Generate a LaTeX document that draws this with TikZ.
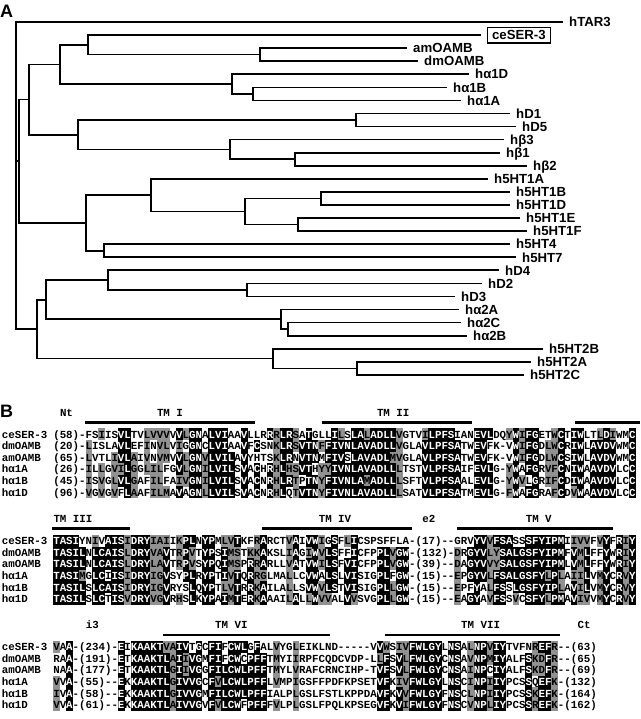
\documentclass[tikz,border=0pt]{standalone}
\usepackage{fontspec}
\setmainfont{Liberation Sans}
\newfontfamily\seqfont{Liberation Mono}
\definecolor{shadegray}{RGB}{145,145,145}
\tikzset{
  branch/.style={line width=1.7pt},
  leaf/.style={anchor=west, inner xsep=6pt, inner ysep=0pt, text height=9.4pt, text depth=0pt,
     font=\fontsize{13.2}{14}\selectfont\bfseries},
  boxedleaf/.style={leaf, draw, line width=1.3pt, inner xsep=4.5pt, inner ysep=3.2pt},
  panel/.style={anchor=base west, inner sep=0pt, font=\fontsize{18}{18}\selectfont\bfseries},
  mono/.style={inner sep=0pt, font=\seqfont\fontsize{10.8}{11}\selectfont\bfseries},
  head/.style={mono, anchor=base west},
  seqname/.style={mono, anchor=base west},
  tmbar/.style={line width=2.2pt},
  blkcell/.style={fill=black},
  grycell/.style={fill=shadegray},
}

\ExplSyntaxOn
\fp_const:Nn \c__rs_cw_fp {6.47}
\fp_const:Nn \c__rs_rh_fp {11.6}
\fp_const:Nn \c__rs_base_fp {3.7}
\int_new:N \l__rs_len_int
\int_new:N \l__rs_col_int
\int_new:N \l__rs_cnt_int
\int_new:N \l__rs_max_int
\int_new:N \l__rs_gcnt_int
\int_new:N \l__rs_gmax_int
\tl_new:N \l__rs_cons_tl
\tl_new:N \l__rs_gcons_tl
\tl_new:N \l__rs_class_tl
\tl_new:N \l__rs_xa_tl
\tl_new:N \l__rs_xb_tl
\tl_new:N \l__rs_ya_tl
\tl_new:N \l__rs_yb_tl
\tl_new:N \l__rs_xc_tl
\tl_new:N \l__rs_yc_tl
\fp_new:N \l__rs_x_fp
\fp_new:N \l__rs_y_fp
\int_step_inline:nn {6}
  {
    \tl_new:c {l__rs_ch_#1_tl}
    \tl_new:c {l__rs_g_#1_tl}
  }
\clist_map_inline:nn {F,Y,W} { \tl_const:cn {c__rs_grp_#1_tl} {1} }
\clist_map_inline:nn {I,L,M,V} { \tl_const:cn {c__rs_grp_#1_tl} {2} }
\clist_map_inline:nn {R,K,H} { \tl_const:cn {c__rs_grp_#1_tl} {3} }
\clist_map_inline:nn {D,E} { \tl_const:cn {c__rs_grp_#1_tl} {4} }
\clist_map_inline:nn {G,A} { \tl_const:cn {c__rs_grp_#1_tl} {5} }
\clist_map_inline:nn {S,T} { \tl_const:cn {c__rs_grp_#1_tl} {6} }
\clist_map_inline:nn {N,Q} { \tl_const:cn {c__rs_grp_#1_tl} {7} }
\tl_const:cn {c__rs_grp_C_tl} {8}
\tl_const:cn {c__rs_grp_P_tl} {9}

% block 1
\tl_const:cn {c__rs_b1_r1_tl} {(58)-FSIISVLTVLVVVVVLGNALVIAAVLLRRRLRSATGLLILSLALADLLVGTVILPFSIANEVLDQYWIFGETWCTIWLTLDIWMC}
\tl_const:cn {c__rs_b1_r2_tl} {(20)-LISLAVLEFINVLVIGGNCLVIAAVFCSNKLRSVTNFFIVNLAVADLLVGLAVLPFSATWEVFK-VWIFGDLWCRIWLAVDVWMC}
\tl_const:cn {c__rs_b1_r3_tl} {(65)-LVTLIVLAIVNVMVVLGNVLVILAVYHTSKLRNVTNMFIVSLAVADLMVGLAVLPFSATWEVFK-VWIFGDLWCSIWLAVDVWMC}
\tl_const:cn {c__rs_b1_r4_tl} {(26)-ILLGVILGGLILFGVLGNILVILSVACHRHLHSVTHYYIVNLAVADLLLTSTVLPFSAIFEVLG-YWAFGRVFCNIWAAVDVLCC}
\tl_const:cn {c__rs_b1_r5_tl} {(45)-ISVGLVLGAFILFAIVGNILVILSVACNRHLRTPTNYFIVNLAMADLLLSFTVLPFSAALEVLG-YWVLGRIFCDIWAAVDVLCC}
\tl_const:cn {c__rs_b1_r6_tl} {(96)-VGVGVFLAAFILMAVAGNLLVILSVACNRHLQTVTNYFIVNLAVADLLLSATVLPFSATMEVLG-FWAFGRAFCDVWAAVDVLCC}
% block 2
\tl_const:cn {c__rs_b2_r1_tl} {TASIYNIVAISIDRYIAIIKPLNYPMLVTKFRARCTVAIVWIGSFLICSPSFFLA-(17)--GRVYVVFSASSSFYIPMIIVVFVYFRIY}
\tl_const:cn {c__rs_b2_r2_tl} {TASILNLCAISLDRYVAVTRPVTYPSIMSTKKAKSLIAGIWVLSFFICFPPLVGW-(132)-DRGYVLYSALGSFYIPMFVMLFFYWRIY}
\tl_const:cn {c__rs_b2_r3_tl} {TASILNLCAISLDRYLAVTRPVSYPQIMSPRRARLLVATVWILSFVICFPPLVGW-(39)--DAGYVVYSALGSFYIPMLVMLFFYWRIY}
\tl_const:cn {c__rs_b2_r4_tl} {TASIMGLCIISIDRYIGVSYPLRYPTIVTQRRGLMALLCVWALSLVISIGPLFGW-(15)--EPGYVLFSALGSFYLPLAIILVMYCRVY}
\tl_const:cn {c__rs_b2_r5_tl} {TASILSLCAISIDRYIGVRYSLQYPTLVTRRKAILALLSVWVLSTVISIGPLLGW-(15)--EPFYALFSSLGSFYIPLAVILVMYCRVY}
\tl_const:cn {c__rs_b2_r6_tl} {TASILSLCTISVDRYVGVRHSLKYPAIMTERKAAAILALLWVVALVVSVGPLLGW-(15)--EAGYAVFSSVCSFYLPMAVIVVMYCRVY}
% block 3
\tl_const:cn {c__rs_b3_r1_tl} {VAA-(234)-EIKAAKTVAIVTGCFIFCWLGFALVYGLEIKLND-----VVWSIVFWLGYLNSALNPVIYTVFNREFR--(63)}
\tl_const:cn {c__rs_b3_r2_tl} {RAA-(191)-ETKAAKTLAIIVGMFIFCWCPFFTMYIIRPFCQDCVDP-LLFSVLFWLGYCNSAVNPMIYALFSKDFR--(65)}
\tl_const:cn {c__rs_b3_r3_tl} {NAA-(177)-ETKAAKTLGIIVGGFILCWLPFFTMYLVRAFCRNCIHP-TVFSVLFWLGYCNSAINPCIYALFSKDFR--(69)}
\tl_const:cn {c__rs_b3_r4_tl} {VVA-(55)--EKKAAKTLGIVVGCFVLCWLPFFLVMPIGSFFPDFKPSETVFKIVFWLGYLNSCINPIIYPCSSQEFK-(132)}
\tl_const:cn {c__rs_b3_r5_tl} {IVA-(58)--EKKAAKTLGIVVGMFILCWLPFFIALPLGSLFSTLKPPDAVFKVVFWLGYFNSCLNPIIYPCSSKEFK-(164)}
\tl_const:cn {c__rs_b3_r6_tl} {VVA-(61)--EKKAAKTLAIVVGVFVLCWFPFFFVLPLGSLFPQLKPSEGVFKVIFWLGYFNSCVNPLIYPCSSREFK-(162)}

\cs_new_protected:Npn \__rs_fetch:n #1
  {
    \int_step_inline:nn {6}
      {
        \tl_set:cx {l__rs_ch_##1_tl}
          { \tl_item:cn {c__rs_b#1_r##1_tl} { \l__rs_col_int } }
        \cs_if_exist:cTF { c__rs_grp_ \tl_use:c {l__rs_ch_##1_tl} _tl }
          { \tl_set_eq:cc {l__rs_g_##1_tl} { c__rs_grp_ \tl_use:c {l__rs_ch_##1_tl} _tl } }
          { \tl_set:cn {l__rs_g_##1_tl} {0} }
      }
  }

\cs_new_protected:Npn \__rs_consensus:
  {
    \int_zero:N \l__rs_max_int
    \int_zero:N \l__rs_gmax_int
    \tl_clear:N \l__rs_cons_tl
    \tl_set:Nn \l__rs_gcons_tl {0}
    \int_step_inline:nn {6}
      {
        \str_if_eq:eeF { \tl_use:c {l__rs_g_##1_tl} } {0}
          {
            \int_zero:N \l__rs_cnt_int
            \int_zero:N \l__rs_gcnt_int
            \int_step_inline:nn {6}
              {
                \tl_if_eq:ccT {l__rs_ch_##1_tl} {l__rs_ch_####1_tl}
                  { \int_incr:N \l__rs_cnt_int }
                \tl_if_eq:ccT {l__rs_g_##1_tl} {l__rs_g_####1_tl}
                  { \int_incr:N \l__rs_gcnt_int }
              }
            \int_compare:nNnT { \l__rs_cnt_int } > { \l__rs_max_int }
              {
                \int_set_eq:NN \l__rs_max_int \l__rs_cnt_int
                \tl_set_eq:Nc \l__rs_cons_tl {l__rs_ch_##1_tl}
              }
            \int_compare:nNnT { \l__rs_gcnt_int } > { \l__rs_gmax_int }
              {
                \int_set_eq:NN \l__rs_gmax_int \l__rs_gcnt_int
                \tl_set_eq:Nc \l__rs_gcons_tl {l__rs_g_##1_tl}
              }
          }
      }
  }

\cs_new_protected:Npn \__rs_check_grey:n #1
  {
    \int_compare:nNnT { \l__rs_gmax_int } > { 3 }
      {
        \tl_if_eq:NcT \l__rs_gcons_tl {l__rs_g_#1_tl}
          { \tl_set:Nn \l__rs_class_tl {1} }
      }
  }

\cs_new_protected:Npn \__rs_cell:nnn #1#2#3
  {
    \tl_set:Nx \l__rs_xa_tl { \fp_eval:n { \l__rs_x_fp - 0.5 * \c__rs_cw_fp - 0.12 } }
    \tl_set:Nx \l__rs_xb_tl { \fp_eval:n { \l__rs_x_fp + 0.5 * \c__rs_cw_fp + 0.12 } }
    \tl_set:Nx \l__rs_ya_tl { \fp_eval:n { \l__rs_y_fp - 0.5 * \c__rs_rh_fp - 0.12 } }
    \tl_set:Nx \l__rs_yb_tl { \fp_eval:n { \l__rs_y_fp + 0.5 * \c__rs_rh_fp + 0.12 } }
    \tl_set:Nx \l__rs_xc_tl { \fp_eval:n { \l__rs_x_fp } }
    \tl_set:Nx \l__rs_yc_tl { \fp_eval:n { \l__rs_y_fp + \c__rs_base_fp } }
    \tl_if_empty:nF {#1}
      { \fill [#1] (\l__rs_xa_tl , \l__rs_ya_tl) rectangle (\l__rs_xb_tl , \l__rs_yb_tl); }
    \node [mono , text = #2 , anchor = base] at (\l__rs_xc_tl , \l__rs_yc_tl) { \tl_use:c {l__rs_ch_#3_tl} };
  }

\cs_new_protected:Npn \__rs_draw_column:nnn #1#2#3
  {
    \fp_set:Nn \l__rs_x_fp { #1 + (\l__rs_col_int - 0.5) * \c__rs_cw_fp }
    \int_step_inline:nn {6}
      {
        \fp_set:Nn \l__rs_y_fp { #2 + (##1 - 1) * (#3) }
        \tl_set:Nn \l__rs_class_tl {0}
        \str_if_eq:eeF { \tl_use:c {l__rs_g_##1_tl} } {0}
          {
            \int_compare:nNnTF { \l__rs_max_int } > { 3 }
              {
                \tl_if_eq:NcTF \l__rs_cons_tl {l__rs_ch_##1_tl}
                  { \tl_set:Nn \l__rs_class_tl {2} }
                  { \__rs_check_grey:n {##1} }
              }
              { \__rs_check_grey:n {##1} }
          }
        \int_case:nnF { \l__rs_class_tl }
          {
            {2} { \__rs_cell:nnn {blkcell} {white} {##1} }
            {1} { \__rs_cell:nnn {grycell} {black} {##1} }
          }
          { \__rs_cell:nnn {} {black} {##1} }
      }
  }

\cs_new_protected:Npn \rs_block:nnnn #1#2#3#4
  {
    \int_set:Nn \l__rs_len_int { \tl_count:c {c__rs_b#1_r1_tl} }
    \int_zero:N \l__rs_col_int
    \int_do_until:nNnn { \l__rs_col_int } = { \l__rs_len_int }
      {
        \int_incr:N \l__rs_col_int
        \__rs_fetch:n {#1}
        \__rs_consensus:
        \__rs_draw_column:nnn {#2} {#3} {#4}
      }
  }
\cs_set_eq:NN \SeqBlock \rs_block:nnnn
\ExplSyntaxOff

\begin{document}
\begin{tikzpicture}[x=1pt,y=-1pt]
\useasboundingbox (0,0) rectangle (640,719);
\fill[white] (0,0) rectangle (640,719);

% ---------------- Panel A: tree ----------------
\node[panel] (pA) at (0,18) {A};

\node[leaf] (tar3) at (563,22.0) {hTAR3};
\node[boxedleaf] (ceser) at (487,35.1) {ceSER-3};
\node[leaf] (amoamb) at (407,48.1) {amOAMB};
\node[leaf] (dmoamb) at (418,61.2) {dmOAMB};
\node[leaf] (a1d) at (469,74.3) {hα1D};
\node[leaf] (a1b) at (447,87.4) {hα1B};
\node[leaf] (a1a) at (461,100.4) {hα1A};
\node[leaf] (d1) at (510,113.5) {hD1};
\node[leaf] (d5) at (516,126.6) {hD5};
\node[leaf] (b3) at (504,139.6) {hβ3};
\node[leaf] (b1) at (500,152.7) {hβ1};
\node[leaf] (b2) at (527,165.8) {hβ2};
\node[leaf] (ht1a) at (488,178.8) {h5HT1A};
\node[leaf] (ht1b) at (510,191.9) {h5HT1B};
\node[leaf] (ht1d) at (510,205.0) {h5HT1D};
\node[leaf] (ht1e) at (520,218.1) {h5HT1E};
\node[leaf] (ht1f) at (527,231.1) {h5HT1F};
\node[leaf] (ht4) at (510,244.2) {h5HT4};
\node[leaf] (ht7) at (516,257.3) {h5HT7};
\node[leaf] (d4) at (499,270.3) {hD4};
\node[leaf] (d2) at (482,283.4) {hD2};
\node[leaf] (d3) at (455,296.5) {hD3};
\node[leaf] (a2a) at (459,309.5) {hα2A};
\node[leaf] (a2c) at (461,322.6) {hα2C};
\node[leaf] (a2b) at (467,335.7) {hα2B};
\node[leaf] (ht2b) at (543,348.8) {h5HT2B};
\node[leaf] (ht2a) at (531,361.8) {h5HT2A};
\node[leaf] (ht2c) at (524,374.9) {h5HT2C};

\coordinate (root) at (16,175);
\coordinate (n1) at (19,161.3);
\coordinate (n2) at (29,99.6);
\coordinate (n3) at (60,64.5);
\coordinate (nA) at (88,44.9);
\coordinate (nOAMB) at (260,54.65);
\coordinate (nA1) at (232,84.1);
\coordinate (nA1BA) at (253,93.9);
\coordinate (n4) at (78,134.7);
\coordinate (nD15) at (356,120.05);
\coordinate (nB) at (230,149.4);
\coordinate (nB12) at (295,159.25);
\coordinate (nHT) at (86,222.95);
\coordinate (nHT1) at (151,195.15);
\coordinate (nHT1BF) at (245,211.5);
\coordinate (nHT1BD) at (321,198.45);
\coordinate (nHT1EF) at (298,224.6);
\coordinate (nHT47) at (104,250.75);
\coordinate (nL1) at (37,329.15);
\coordinate (nL2) at (46,299.7);
\coordinate (nD) at (108,280.1);
\coordinate (nD23) at (247,289.95);
\coordinate (nA2) at (281,319.3);
\coordinate (nA2CB) at (288,329.15);
\coordinate (nHT2) at (273,358.6);
\coordinate (nHT2AC) at (357,368.35);

\foreach \p/\c in {root/tar3,root/n1,root/nL1,
  n1/n2,n1/nHT,n2/n3,n2/n4,n3/nA,n3/nA1,nA/nOAMB,
  nOAMB/amoamb,nOAMB/dmoamb,nA1/a1d,nA1/nA1BA,nA1BA/a1b,nA1BA/a1a,
  n4/nD15,n4/nB,nD15/d1,nD15/d5,nB/b3,nB/nB12,nB12/b1,nB12/b2,
  nHT/nHT1,nHT/nHT47,nHT1/ht1a,nHT1/nHT1BF,nHT1BF/nHT1BD,nHT1BF/nHT1EF,
  nHT1BD/ht1b,nHT1BD/ht1d,nHT1EF/ht1e,nHT1EF/ht1f,nHT47/ht4,nHT47/ht7,
  nL1/nL2,nL1/nHT2,nL2/nD,nL2/nA2,nD/d4,nD/nD23,nD23/d2,nD23/d3,
  nA2/a2a,nA2/nA2CB,nA2CB/a2c,nA2CB/a2b,nHT2/ht2b,nHT2/nHT2AC,
  nHT2AC/ht2a,nHT2AC/ht2c}
  \draw[branch] (\p) |- (\c);
\draw[branch] (nA) |- ([xshift=-6pt]ceser.west);

% ---------------- Panel B: alignment ----------------
\node[panel] (pB) at (0,417) {B};

\node[head] (hNt) at (59.8,416) {Nt};
\node[head] (hTM1) at (156.8,416) {TM I};
\node[head] (hTM2) at (376.8,416) {TM II};
\coordinate (b1a) at (85,422.5);  \coordinate (b1b) at (255,422.5);
\coordinate (b1c) at (322,422.5); \coordinate (b1d) at (472,422.5);
\coordinate (b1e) at (575,422.5); \coordinate (b1f) at (640,422.5);
\draw[tmbar] (b1a) -- (b1b);
\draw[tmbar] (b1c) -- (b1d);
\draw[tmbar] (b1e) -- (b1f);

\node[head] (hTM3) at (53.3,522.6) {TM III};
\node[head] (hTM4) at (318.6,522.6) {TM IV};
\node[head] (he2) at (422.1,522.6) {e2};
\node[head] (hTM5) at (525.6,522.6) {TM V};
\coordinate (b2a) at (52,528.5);  \coordinate (b2b) at (130,528.5);
\coordinate (b2c) at (262,528.5); \coordinate (b2d) at (412,528.5);
\coordinate (b2e) at (457,528.5); \coordinate (b2f) at (613,528.5);
\draw[tmbar] (b2a) -- (b2b);
\draw[tmbar] (b2c) -- (b2d);
\draw[tmbar] (b2e) -- (b2f);

\node[head] (hi3) at (85.7,628.6) {i3};
\node[head] (hTM6) at (215,628.6) {TM VI};
\node[head] (hTM7) at (461,628.6) {TM VII};
\node[head] (hCt) at (577.4,628.6) {Ct};
\coordinate (b3a) at (163,635); \coordinate (b3b) at (330,635);
\coordinate (b3c) at (385,635); \coordinate (b3d) at (560,635);
\draw[tmbar] (b3a) -- (b3b);
\draw[tmbar] (b3c) -- (b3d);

\foreach \nm [count=\i from 0] in {ceSER-3,dmOAMB,amOAMB,hα1A,hα1B,hα1D}{
  \node[seqname] (nmA\i) at (1.7,434.3+11.6*\i+3.7) {\nm};
  \node[seqname] (nmB\i) at (1.7,541+11.6*\i+3.7) {\nm};
  \node[seqname] (nmC\i) at (1.7,647+11.6*\i+3.7) {\nm};
}

\SeqBlock{1}{53.3}{434.3}{11.6}
\SeqBlock{2}{53.3}{541}{11.6}
\SeqBlock{3}{53.3}{647}{11.6}
\end{tikzpicture}
\end{document}
